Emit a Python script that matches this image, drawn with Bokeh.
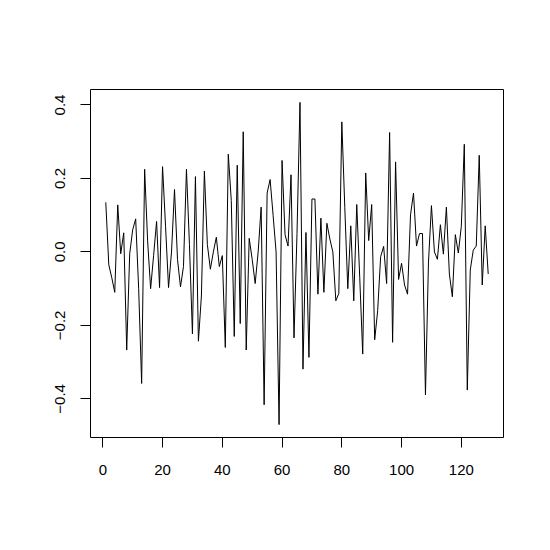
from bokeh.plotting import figure
from bokeh.models import Range1d, FixedTicker, CustomJSTickFormatter
from bokeh.embed import file_html
from bokeh.resources import INLINE

values = [
    0.135, -0.035, -0.07, -0.11, 0.128, -0.005, 0.052, -0.267, -0.005, 0.06,
    0.09, -0.1, -0.358, 0.225, 0.03, -0.1, -0.01, 0.083, -0.097, 0.232,
    0.07, -0.097, 0.0, 0.17, -0.02, -0.095, -0.04, 0.225, 0.02, -0.223,
    0.205, -0.243, -0.12, 0.22, 0.02, -0.047, 0.0, 0.04, -0.04, -0.01,
    -0.26, 0.266, 0.14, -0.23, 0.236, -0.195, 0.327, -0.267, 0.037, -0.02,
    -0.086, 0.0, 0.122, -0.416, 0.16, 0.197, 0.1, 0.0, -0.47, 0.249,
    0.047, 0.016, 0.21, -0.234, 0.05, 0.407, -0.319, 0.053, -0.287, 0.144,
    0.144, -0.115, 0.092, -0.11, 0.078, 0.035, 0.0, -0.133, -0.113, 0.354,
    0.12, -0.1, 0.071, -0.133, 0.129, -0.07, -0.278, 0.215, 0.031, 0.129,
    -0.239, -0.16, -0.013, 0.015, -0.086, 0.325, -0.246, 0.245, -0.075, -0.031,
    -0.09, -0.115, 0.101, 0.16, 0.016, 0.05, 0.05, -0.389, -0.03, 0.126,
    0.0, -0.02, 0.074, -0.006, 0.122, -0.06, -0.122, 0.047, -0.003, 0.07,
    0.293, -0.376, -0.049, 0.005, 0.016, 0.263, -0.09, 0.071, -0.06,
]
index = list(range(1, len(values) + 1))
x_ticks = [0, 20, 40, 60, 80, 100, 120]
y_ticks = [-0.4, -0.2, 0.0, 0.2, 0.4]

# R-style 4% axis extension
xr = index[-1] - index[0]
ymin, ymax = min(values), max(values)
yr = ymax - ymin

p = figure(
    width=550, height=550,
    output_backend="svg", toolbar_location=None,
    x_range=Range1d(index[0] - 0.04 * xr, index[-1] + 0.04 * xr),
    y_range=Range1d(ymin - 0.04 * yr, ymax + 0.04 * yr),
    min_border_left=90, min_border_right=47,
    min_border_top=89, min_border_bottom=113,
    background_fill_color="white", border_fill_color="white",
)
p.outline_line_color = "black"
p.outline_line_width = 1
p.grid.visible = False

p.line(index, values, line_color="black", line_width=1)

font = "Liberation Sans"
for ax in (p.xaxis[0], p.yaxis[0]):
    ax.axis_line_color = None
    ax.major_tick_line_color = "black"
    ax.major_tick_out = 10
    ax.major_tick_in = 0
    ax.minor_tick_line_color = None
    ax.major_label_text_font = font
    ax.major_label_text_font_size = "15px"
    ax.major_label_text_color = "black"

p.xaxis[0].ticker = FixedTicker(ticks=x_ticks)
p.xaxis[0].major_label_standoff = 17
p.yaxis[0].ticker = FixedTicker(ticks=y_ticks)
p.yaxis[0].major_label_orientation = "vertical"
p.yaxis[0].major_label_standoff = 15
p.yaxis[0].formatter = CustomJSTickFormatter(
    code="return tick.toFixed(1).replace('-', '\u2212');"
)

open("out.html", "w").write(file_html(p, INLINE))
